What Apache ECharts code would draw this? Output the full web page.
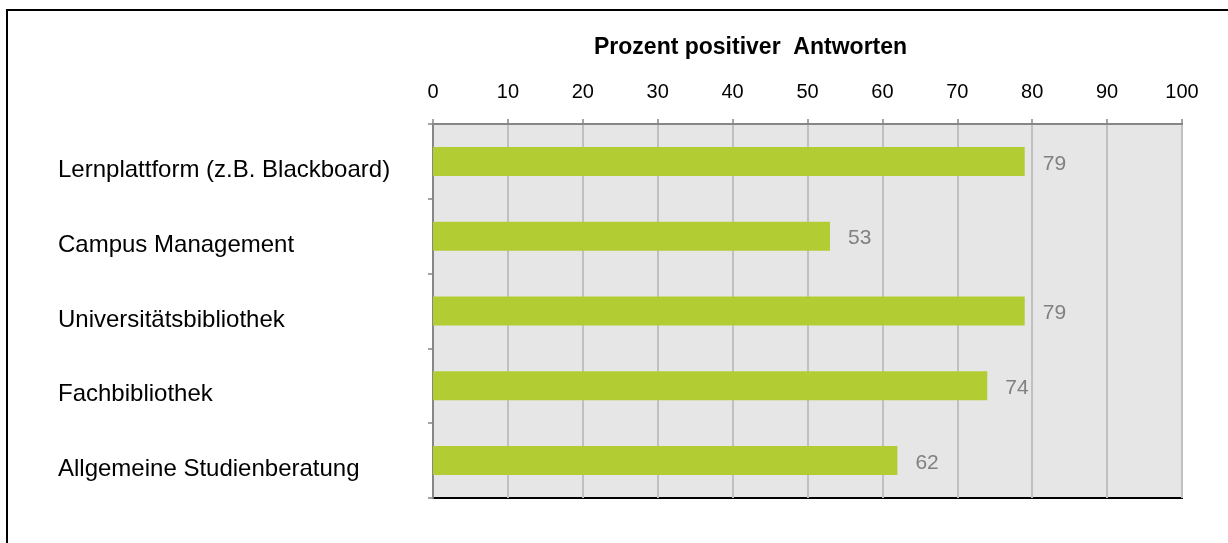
<!DOCTYPE html>
<html>
<head>
<meta charset="utf-8">
<script src="https://cdn.jsdelivr.net/npm/echarts@6/dist/echarts.min.js"></script>
<style>
html,body{margin:0;padding:0;background:#fff;}
#chart{width:1228px;height:543px;}
</style>
</head>
<body>
<div id="chart"></div>
<script>
  // Daten
  var categories = ['Lernplattform (z.B. Blackboard)', 'Campus Management', 'Universitätsbibliothek', 'Fachbibliothek', 'Allgemeine Studienberatung'];
  var values = [79, 53, 79, 74, 62];
  var axisTitle = 'Prozent positiver  Antworten';

  var chart = echarts.init(document.getElementById('chart'));
  var option = {
    animation: false,
    textStyle: {fontFamily: 'Liberation Sans, Arial, sans-serif'},
    title: {
      text: axisTitle,
      left: 589,
      top: 31,
      textStyle: {fontSize: 23, fontWeight: 'bold', color: '#000'}
    },
    graphic: [{
      type: 'rect',
      shape: {x: 7, y: 10, width: 1300, height: 600},
      style: {fill: 'none', stroke: '#000', lineWidth: 2},
      z: 100
    }],
    grid: {
      left: 433, top: 124, width: 749, height: 374,
      show: true,
      backgroundColor: '#e6e6e6',
      borderColor: '#000',
      borderWidth: 2
    },
    xAxis: {
      type: 'value',
      position: 'top',
      min: 0, max: 100, interval: 10,
      axisLine: {show: true, lineStyle: {color: '#868686', width: 2}},
      axisTick: {show: true, length: 5, lineStyle: {color: '#868686', width: 1.5}},
      axisLabel: {fontSize: 20, color: '#000', margin: 22},
      splitLine: {show: true, lineStyle: {color: '#c0c0c0', width: 2}}
    },
    yAxis: {
      type: 'category',
      inverse: true,
      data: categories,
      axisLine: {show: true, lineStyle: {color: '#868686', width: 2}},
      axisTick: {show: true, length: 5, lineStyle: {color: '#868686', width: 1.5}},
      axisLabel: {
        color: '#000', align: 'left', margin: 375,
        formatter: function (v) { return '{c|' + v + '}'; },
        rich: {c: {fontSize: 24, color: '#000', padding: [18, 0, 0, 0]}}
      }
    },
    series: [{
      type: 'bar',
      data: values,
      barWidth: 29,
      itemStyle: {color: '#b2cd34'},
      label: {
        show: true,
        position: 'right',
        distance: 18,
        formatter: function (p) { return '{v|' + p.value + '}'; },
        rich: {v: {fontSize: 21, color: '#808080', padding: [5, 0, 0, 0]}}
      }
    }]
  };
  chart.setOption(option);
</script>
</body>
</html>
